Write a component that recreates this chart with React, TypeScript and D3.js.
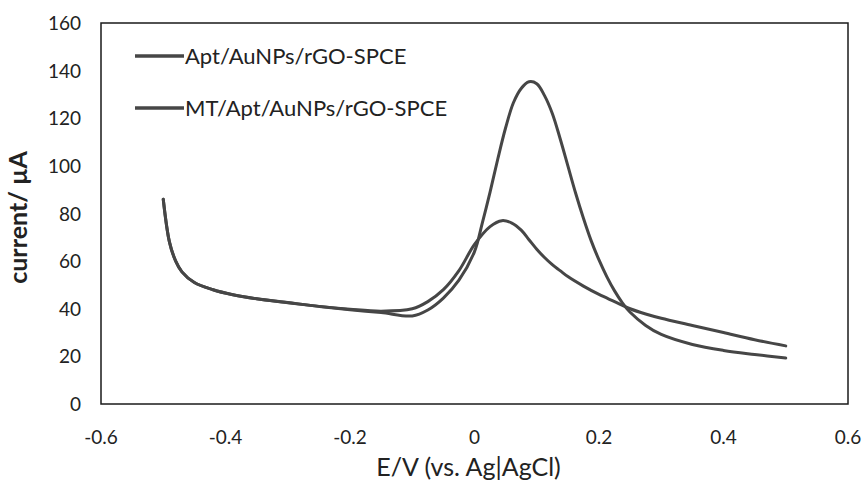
import React, { useRef, useEffect } from 'react';
import * as d3 from 'd3';

// Potential sweep (V vs Ag|AgCl) and currents (µA)
const potentialApt = [-0.5, -0.49, -0.48, -0.47, -0.45, -0.42, -0.39, -0.35, -0.3, -0.25, -0.2, -0.15, -0.1, -0.075, -0.05, -0.025, 0, 0.0125, 0.025, 0.0375, 0.05, 0.0625, 0.075, 0.0875, 0.1, 0.1125, 0.125, 0.1375, 0.15, 0.1625, 0.175, 0.1875, 0.2, 0.2125, 0.225, 0.2375, 0.25, 0.275, 0.3, 0.35, 0.4, 0.45, 0.5];
const currentApt = [86, 68, 60, 55.5, 51, 48, 46, 44.2, 42.5, 41, 39.6, 38.4, 37, 39.5, 44.5, 52, 64, 76, 89, 103, 116, 126.5, 132.5, 135.3, 134.5, 129.5, 122, 111.5, 100, 88.5, 78, 68.5, 60.5, 53.5, 47.5, 42.5, 38.5, 33, 29.2, 25, 22.5, 20.8, 19.3];

const potentialMT = [-0.5, -0.49, -0.48, -0.47, -0.45, -0.42, -0.39, -0.35, -0.3, -0.25, -0.2, -0.15, -0.1, -0.075, -0.05, -0.025, 0, 0.025, 0.044, 0.06, 0.075, 0.0875, 0.1, 0.1125, 0.125, 0.1375, 0.15, 0.175, 0.2, 0.225, 0.25, 0.275, 0.3, 0.35, 0.4, 0.45, 0.5];
const currentMT = [86, 68, 60, 55.5, 51, 48, 46, 44.2, 42.6, 41, 39.8, 39, 40, 43, 48, 56, 67, 74.5, 77, 76, 73, 69, 65, 61.5, 58.5, 56, 53.5, 49.5, 46, 43, 40, 37.8, 36, 33, 30, 27, 24.4];

const seriesNames = ['Apt/AuNPs/rGO-SPCE', 'MT/Apt/AuNPs/rGO-SPCE'];
const xTicks = [-0.6, -0.4, -0.2, 0, 0.2, 0.4, 0.6];
const yTicks = [0, 20, 40, 60, 80, 100, 120, 140, 160];

const FONT = 'Lato, "Open Sans", sans-serif';
const LINE = '#464646';
const TEXT = '#222';

const App = () => {
  const ref = useRef<SVGSVGElement | null>(null);

  useEffect(() => {
    const svg = d3.select(ref.current);
    svg.selectAll('*').remove();

    const width = 866;
    const height = 483;
    const margin = { top: 23, right: 18, bottom: 79, left: 101 };

    const x = d3.scaleLinear().domain([-0.6, 0.6]).range([margin.left, width - margin.right]);
    const y = d3.scaleLinear().domain([0, 160]).range([height - margin.bottom, margin.top]);

    // frame
    svg.append('rect')
      .attr('x', margin.left)
      .attr('y', margin.top)
      .attr('width', width - margin.left - margin.right)
      .attr('height', height - margin.top - margin.bottom)
      .attr('fill', 'none')
      .attr('stroke', '#1a1a1a')
      .attr('stroke-width', 1.5);

    // x axis labels
    svg.append('g')
      .selectAll('text')
      .data(xTicks)
      .enter()
      .append('text')
      .attr('x', d => x(d))
      .attr('y', height - margin.bottom + 40)
      .attr('text-anchor', 'middle')
      .attr('font-family', FONT)
      .attr('font-size', 19)
      .attr('fill', TEXT)
      .text(d => String(d));

    // y axis labels
    svg.append('g')
      .selectAll('text')
      .data(yTicks)
      .enter()
      .append('text')
      .attr('x', margin.left - 20)
      .attr('y', d => y(d) + 7)
      .attr('text-anchor', 'end')
      .attr('font-family', FONT)
      .attr('font-size', 19)
      .attr('fill', TEXT)
      .text(d => String(d));

    // axis titles
    svg.append('text')
      .attr('x', (margin.left + width - margin.right) / 2 - 6)
      .attr('y', height - 7)
      .attr('text-anchor', 'middle')
      .attr('font-family', FONT)
      .attr('font-size', 25)
      .attr('fill', TEXT)
      .text('E/V (vs. Ag|AgCl)');

    svg.append('text')
      .attr('transform', `translate(27, ${(margin.top + height - margin.bottom) / 2 + 4}) rotate(-90)`)
      .attr('text-anchor', 'middle')
      .attr('font-family', FONT)
      .attr('font-size', 25)
      .attr('font-weight', 'bold')
      .attr('fill', TEXT)
      .text('current/ µA');

    const line = d3.line<[number, number]>()
      .x(d => x(d[0]))
      .y(d => y(d[1]))
      .curve(d3.curveCatmullRom.alpha(0.5));

    const series = [
      d3.zip(potentialApt, currentApt) as [number, number][],
      d3.zip(potentialMT, currentMT) as [number, number][]
    ];

    svg.append('g')
      .selectAll('path')
      .data(series)
      .enter()
      .append('path')
      .attr('d', d => line(d))
      .attr('fill', 'none')
      .attr('stroke', LINE)
      .attr('stroke-width', 3)
      .attr('stroke-linejoin', 'round')
      .attr('stroke-linecap', 'round');

    // legend
    const legend = svg.append('g')
      .selectAll('g')
      .data(seriesNames)
      .enter()
      .append('g')
      .attr('transform', (d, i) => `translate(135, ${56 + i * 52})`);

    legend.append('line')
      .attr('x1', 0)
      .attr('x2', 49)
      .attr('stroke', LINE)
      .attr('stroke-width', 3.5);

    legend.append('text')
      .attr('x', 50)
      .attr('y', 8)
      .attr('font-family', FONT)
      .attr('font-size', 22)
      .attr('fill', TEXT)
      .text(d => d);
  }, []);

  return (
    <svg ref={ref} width={866} height={483} style={{ position: 'absolute', left: 0, top: 0, background: '#fff' }} />
  );
};

export default App;
